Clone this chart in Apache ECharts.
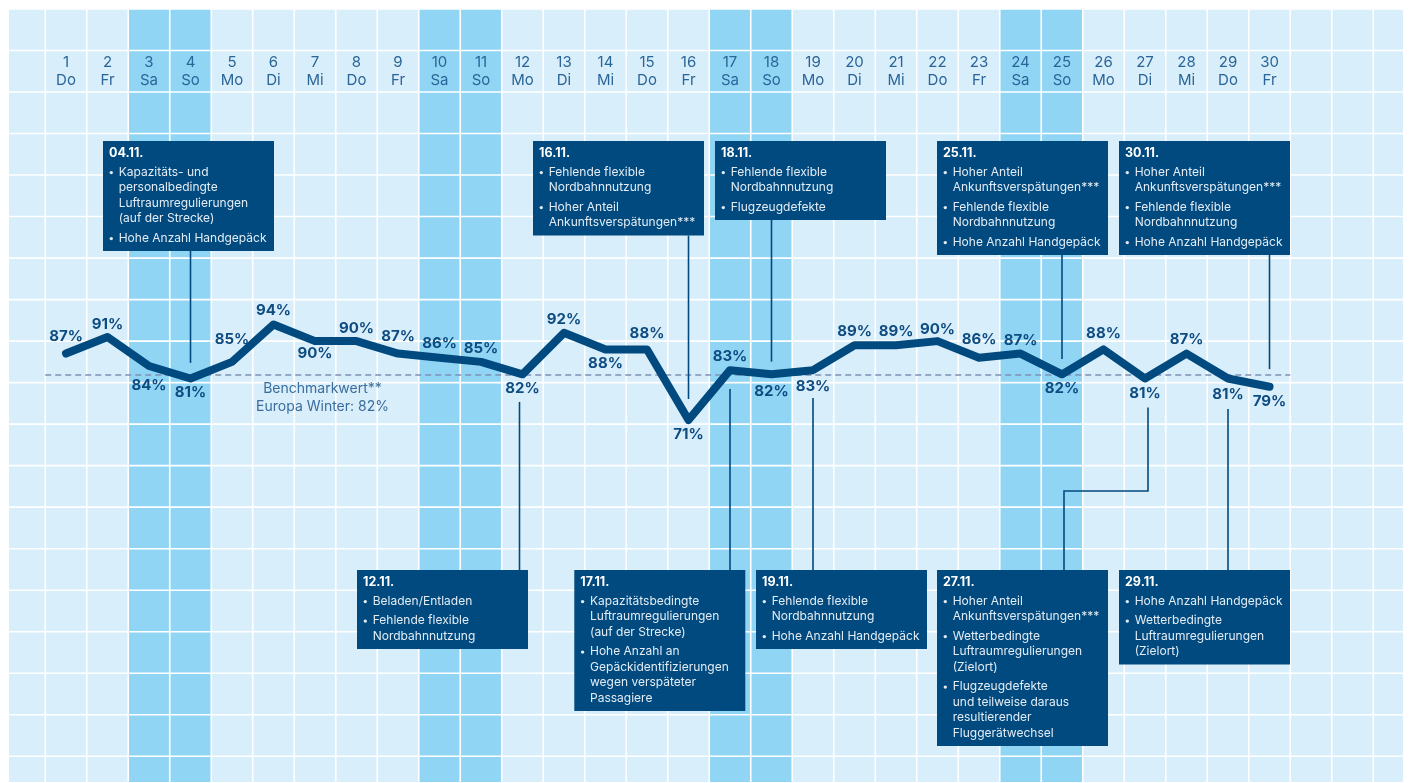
<!DOCTYPE html>
<html>
<head>
<meta charset="utf-8">
<script src="https://cdn.jsdelivr.net/npm/echarts@6/dist/echarts.min.js"></script>
<style>
html,body{margin:0;padding:0;background:#fff;}
#c{width:1410px;height:783px;}
</style>
</head>
<body>
<div id="c"></div>
<script>
// ---------- data ----------
const days = [1,2,3,4,5,6,7,8,9,10,11,12,13,14,15,16,17,18,19,20,21,22,23,24,25,26,27,28,29,30];
const weekdays = ['Do','Fr','Sa','So','Mo','Di','Mi','Do','Fr','Sa','So','Mo','Di','Mi','Do','Fr','Sa','So','Mo','Di','Mi','Do','Fr','Sa','So','Mo','Di','Mi','Do','Fr'];
const punctuality = [87,91,84,81,85,94,90,90,87,86,85,82,92,88,88,71,83,82,83,89,89,90,86,87,82,88,81,87,81,79];
const weekendDays = [3,4,10,11,17,18,24,25];
const benchmark = 82;
const benchmarkText = ['Benchmarkwert**', 'Europa Winter: 82%'];

const annDays = [4,16,18,25,30,12,17,19,27,29];
const annTitles = ['04.11.','16.11.','18.11.','25.11.','30.11.','12.11.','17.11.','19.11.','27.11.','29.11.'];
const annItems = [
  [['Kapazitäts- und','personalbedingte','Luftraumregulierungen','(auf der Strecke)'],['Hohe Anzahl Handgepäck']],
  [['Fehlende flexible','Nordbahnnutzung'],['Hoher Anteil','Ankunftsverspätungen***']],
  [['Fehlende flexible','Nordbahnnutzung'],['Flugzeugdefekte']],
  [['Hoher Anteil','Ankunftsverspätungen***'],['Fehlende flexible','Nordbahnnutzung'],['Hohe Anzahl Handgepäck']],
  [['Hoher Anteil','Ankunftsverspätungen***'],['Fehlende flexible','Nordbahnnutzung'],['Hohe Anzahl Handgepäck']],
  [['Beladen/Entladen'],['Fehlende flexible','Nordbahnnutzung']],
  [['Kapazitätsbedingte','Luftraumregulierungen','(auf der Strecke)'],['Hohe Anzahl an','Gepäckidentifizierungen','wegen verspäteter','Passagiere']],
  [['Fehlende flexible','Nordbahnnutzung'],['Hohe Anzahl Handgepäck']],
  [['Hoher Anteil','Ankunftsverspätungen***'],['Wetterbedingte','Luftraumregulierungen','(Zielort)'],['Flugzeugdefekte','und teilweise daraus','resultierender','Fluggerätwechsel']],
  [['Hohe Anzahl Handgepäck'],['Wetterbedingte','Luftraumregulierungen','(Zielort)']]
];

// ---------- layout / style (not data) ----------
const labelSide = ['t','t','b','b','t','t','b','t','t','t','t','b','t','b','t','b','t','b','b','t','t','t','t','t','b','t','b','t','b','b'];
const labelGap  = [17.6,13.7,20,14.7,23.6,14.6,13,13.7,17.6,15,14.6,15.6,14.5,14.6,16.7,15.6,14.2,18.3,17,14.6,14.6,12.3,19.5,13.6,15.6,16.7,16.4,14.6,17.4,15.4];
const annLayout = [
  {side:'top', boxDx:-87.5, lineDx:0, gap:15.6},
  {side:'top', boxDx:-155.5, lineDx:0, gap:21},
  {side:'top', boxDx:-56.5, lineDx:0, gap:12.7},
  {side:'top', boxDx:-125, lineDx:0, gap:15.4},
  {side:'top', boxDx:-150.5, lineDx:0, gap:17.6},
  {side:'bottom', boxDx:-165.5, lineDx:-3, gap:27.6},
  {side:'bottom', boxDx:-155.7, lineDx:0, gap:18.8},
  {side:'bottom', boxDx:-57, lineDx:0, gap:27.8},
  {side:'bottom', boxDx:-208, lineDx:3, gap:29, elbowY:491, elbowX:127},
  {side:'bottom', boxDx:-109, lineDx:0, gap:30.4}
];
const BOX_TOP_UPPER = 141, BOX_TOP_LOWER = 570, BOX_W = 171;
const X_MIN = -0.3735, X_MAX = 33.217, Y_MIN = -16.2, Y_MAX = 170;
const NAVY = '#004a7f';
const FONT = 'Inter';

const dayLabels = days.map((d, i) => d + '\n' + weekdays[i]);
const cells = [];
for (let c = 0; c <= 33; c++) {
  for (let r = -20; r < 170; r += 10) cells.push([c, r]);
}

const chart = echarts.init(document.getElementById('c'), null, {renderer: 'canvas'});

const lineData = punctuality.map((v, i) => ({
  value: v,
  label: {
    position: labelSide[i] === 't' ? 'top' : 'bottom',
    distance: labelGap[i] - 9
  }
}));

const option = {
  animation: false,
  backgroundColor: '#ffffff',
  grid: [
    {left: 9, top: 9, width: 1394, height: 773},
    {left: 45.25, top: 9, width: 1245, height: 773}
  ],
  xAxis: [
    {gridIndex: 0, type: 'value', min: X_MIN, max: X_MAX, show: false},
    {gridIndex: 1, type: 'category', data: dayLabels, position: 'top', boundaryGap: true,
     axisLine: {show: false}, axisTick: {show: false}, splitLine: {show: false},
     axisLabel: {inside: true, margin: 45, interval: 0, color: '#2a6598', fontSize: 15,
                 lineHeight: 17.5, fontFamily: FONT, align: 'center'}}
  ],
  yAxis: [
    {gridIndex: 0, type: 'value', min: Y_MIN, max: Y_MAX, show: false},
    {gridIndex: 1, type: 'value', min: Y_MIN, max: Y_MAX, show: false}
  ],
  series: [
    {
      type: 'custom', xAxisIndex: 0, yAxisIndex: 0, z: 0, clip: true, silent: true,
      data: cells,
      encode: {x: 0, y: 1},
      renderItem: function (params, api) {
        const c = api.value(0), r = api.value(1);
        const p0 = api.coord([c - 0.5, r + 10]);
        const p1 = api.coord([c + 0.5, r]);
        const wk = weekendDays.indexOf(c) >= 0;
        return {
          type: 'rect',
          shape: {x: p0[0] + 0.8, y: p0[1] + 0.8, width: p1[0] - p0[0] - 1.6, height: p1[1] - p0[1] - 1.6},
          style: {fill: wk ? '#91d5f5' : '#d9eefb'}
        };
      }
    },
    {
      type: 'line', xAxisIndex: 1, yAxisIndex: 1, z: 3,
      data: lineData,
      symbol: 'circle', symbolSize: 1, showSymbol: true,
      itemStyle: {color: NAVY},
      lineStyle: {color: NAVY, width: 8, cap: 'round', join: 'round'},
      label: {show: true, formatter: '{c}%', color: '#0d4b80', fontSize: 15, fontWeight: 'bold', fontFamily: FONT},
      markLine: {
        z: 1, silent: true, symbol: ['none', 'none'],
        label: {show: false},
        lineStyle: {type: [6, 4], color: '#7d90b6', width: 1.5},
        data: [{yAxis: benchmark}]
      }
    }
  ]
};
chart.setOption(option);

// ---------- annotations ----------
const graphics = [];
function px(dayIdx, v) { return chart.convertToPixel({seriesIndex: 1}, [dayIdx, v]); }

annDays.forEach((d, k) => {
  const L = annLayout[k];
  const idx = days.indexOf(d);
  const p = px(idx, punctuality[idx]);
  const boxLeft = p[0] + L.boxDx;
  const lineX = p[0] + L.lineDx;
  const items = annItems[k];
  const nLines = items.reduce((s, it) => s + it.length, 0);
  const h = 31 + (nLines - 1) * 15.5 + (items.length - 1) * 4 + 13;
  const top = L.side === 'top' ? BOX_TOP_UPPER : BOX_TOP_LOWER;
  let pts;
  if (L.side === 'top') {
    pts = [[lineX, top + h], [lineX, p[1] - L.gap]];
  } else if (L.elbowY) {
    const ex = boxLeft + L.elbowX;
    pts = [[lineX, p[1] + L.gap], [lineX, L.elbowY], [ex, L.elbowY], [ex, top]];
  } else {
    pts = [[lineX, p[1] + L.gap], [lineX, top]];
  }
  graphics.push({type: 'polyline', z: 20, silent: true, shape: {points: pts},
                 style: {stroke: NAVY, lineWidth: 1.6, fill: null}});
  graphics.push({type: 'rect', z: 20, silent: true,
                 shape: {x: boxLeft, y: top, width: BOX_W, height: h}, style: {fill: NAVY}});
  graphics.push({type: 'text', z: 21, silent: true, x: boxLeft + 6, y: top + 12,
                 style: {text: annTitles[k], fill: '#ffffff', fontSize: 12.5, fontWeight: 'bold',
                         fontFamily: FONT, verticalAlign: 'middle', align: 'left'}});
  let y = top + 31;
  items.forEach((it, j) => {
    if (j > 0) y += 4;
    graphics.push({type: 'circle', z: 21, silent: true,
                   shape: {cx: boxLeft + 8.3, cy: y + 0.6, r: 1.7}, style: {fill: '#e3ecf4'}});
    it.forEach((ln) => {
      graphics.push({type: 'text', z: 21, silent: true, x: boxLeft + 15.7, y: y,
                     style: {text: ln, fill: '#e3ecf4', fontSize: 12, fontFamily: FONT,
                             verticalAlign: 'middle', align: 'left'}});
      y += 15.5;
    });
  });
});

// benchmark caption
const bp = px(6, benchmark);
benchmarkText.forEach((t, i) => {
  graphics.push({type: 'text', z: 21, silent: true, x: bp[0] + 7.5, y: bp[1] + 14.7 + i * 17.7,
                 style: {text: t, fill: '#3b6d9c', fontSize: 14, fontFamily: FONT,
                         verticalAlign: 'middle', align: 'center'}});
});

chart.setOption({graphic: graphics});
</script>
</body>
</html>
